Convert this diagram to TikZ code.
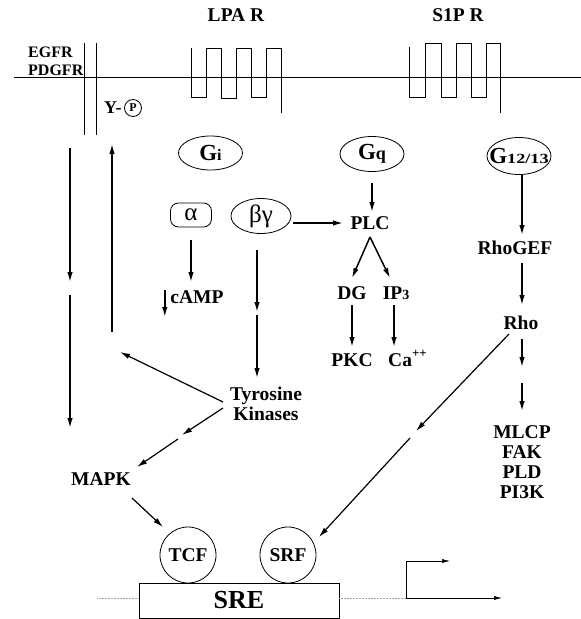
\documentclass[tikz,border=0pt]{standalone}
\usepackage{fontspec}
\setmainfont{Liberation Serif}
\usetikzlibrary{arrows.meta,shapes.geometric,calc}
\begin{document}
\begin{tikzpicture}[x=1pt,y=-1pt,
  lbl/.style={font=\fontsize{19.5}{20}\selectfont\bfseries, inner sep=0pt},
  rlbl/.style={font=\fontsize{16}{17}\selectfont\bfseries, inner sep=0pt},
  gnode/.style={draw, ellipse, line width=0.8pt, inner sep=0pt, font=\fontsize{23}{23}\selectfont\bfseries},
  arr/.style={line width=1.5pt, -{Latex[length=10pt,width=5.5pt]}},
  memline/.style={line width=0.8pt},
  dnaline/.style={line width=0.6pt},
  faint/.style={line width=0.5pt, gray!70, densely dotted},
  fcirc/.style={draw, circle, line width=0.8pt, inner sep=0pt, minimum size=56pt, font=\fontsize{19.5}{20}\selectfont\bfseries},
]
\useasboundingbox (0,0) rectangle (581,619);

% membrane
\draw[memline] (14,77) -- (581,77);
% RTK
\draw[memline] (84.5,43) -- (84.5,135);
\draw[memline] (96.5,43) -- (96.5,135);
% LPA R serpentine
\draw[memline] (191,48) -- (191,97) -- (206,97) -- (206,48) -- (221,48) -- (221,98) -- (236,98) -- (236,48) -- (251,48) -- (251,97) -- (266,97) -- (266,48) -- (281,48) -- (281,113);
% S1P R serpentine
\draw[memline] (409,47) -- (409,97) -- (425.5,97) -- (425.5,43.5) -- (441.5,43.5) -- (441.5,97) -- (456,97) -- (456,43.5) -- (471.5,43.5) -- (471.5,97) -- (486,97) -- (486,43.5) -- (500,43.5) -- (500,113);

% labels
\node[rlbl, anchor=west] (egfr) at (28,52) {EGFR};
\node[rlbl, anchor=west] (pdgfr) at (28,70) {PDGFR};
\node[lbl] (lpa) at (236,15) {LPA R};
\node[lbl] (s1p) at (458,15) {S1P R};
\node[font=\fontsize{18}{18}\selectfont\bfseries, inner sep=0pt, anchor=west] (yp) at (104,108) {Y-};
\node[draw, circle, line width=0.8pt, inner sep=0pt, minimum size=17pt, font=\fontsize{12}{12}\selectfont\bfseries] (pcirc) at (133,108) {P};

% G proteins
\node[gnode, minimum width=64pt, minimum height=34pt] (Gi) at (210.5,153) {\makebox[0pt]{G{\fontsize{16}{16}\selectfont i}}};
\node[gnode, minimum width=64pt, minimum height=35pt] (Gq) at (372,154) {\makebox[0pt]{G{\fontsize{18}{18}\selectfont q}}};
\node[gnode, minimum width=64pt, minimum height=37pt] (G12) at (519,156) {\makebox[0pt]{G{\fontsize{14}{14}\selectfont\scalebox{1.3}[1]{12/13}}}};

\node[draw, rectangle, rounded corners=8pt, line width=0.8pt, minimum width=41pt, minimum height=24pt, inner sep=0pt, font=\fontsize{25}{25}\selectfont] (al) at (191,215) {\makebox[0pt]{α}};
\node[draw, ellipse, line width=0.8pt, minimum width=60pt, minimum height=35pt, inner sep=0pt, font=\fontsize{25}{25}\selectfont] (bg) at (261,216) {\makebox[0pt]{βγ}};

\node[lbl] (PLC) at (370,223) {PLC};
\node[lbl] (camp) at (197,297) {cAMP};
\node[lbl] (DG) at (352,293) {DG};
\node[lbl] (IP3) at (396,293) {IP{\fontsize{14}{14}\selectfont 3}};
\node[lbl] (PKC) at (352,360) {PKC};
\node[lbl, anchor=base west] (Ca) at (388,366.5) {Ca\raisebox{9pt}{\fontsize{13}{13}\selectfont ++}};
\node[lbl] (RhoGEF) at (515,248) {RhoGEF};
\node[lbl] (Rho) at (521,323) {Rho};
\node[lbl, align=center] (mlcp) at (522,462.5) {MLCP\\FAK\\PLD\\PI3K};
\node[lbl, align=center] (tk) at (266,404) {Tyrosine\\Kinases};
\node[lbl] (mapk) at (101,479) {MAPK};
\node[fcirc] (tcf) at (188,555) {TCF};
\node[fcirc] (srf) at (288,555) {SRF};
\node[draw, rectangle, line width=0.8pt, minimum width=200pt, minimum height=35pt, inner sep=0pt, font=\fontsize{26}{26}\selectfont\bfseries] (sre) at (239,600.5) {SRE};

% free-end coordinates
\coordinate (l1a) at (70,148);
\coordinate (l1b) at (70,282);
\coordinate (l2a) at (70,295);
\coordinate (l2b) at (70,428);
\coordinate (upa) at (112,332);
\coordinate (upb) at (112,144);
\coordinate (tkup) at (120,352);
\coordinate (tm1) at (182,435);
\coordinate (tm2) at (178,439);
\coordinate (rs1) at (416,431);
\coordinate (rs2) at (410,438);
\coordinate (rm1) at (522,367);
\coordinate (rm2) at (522,383);
\coordinate (bt1) at (257,312);
\coordinate (bt2) at (257,315);
\coordinate (dnaL) at (97,598);
\coordinate (prom) at (406,598);
\coordinate (promtop) at (406,561);
\coordinate (promend) at (450,561);
\coordinate (dnaR) at (502,598);

% arrows
\draw[arr] (l1a) -- (l1b);
\draw[arr] (l2a) -- (l2b);
\draw[arr] (upa) -- (upb);
\draw[arr] ($(Gq)+(0,29)$) -- ($(PLC)+(2,-11)$);
\draw[arr] ($(G12)+(3,19)$) -- ($(RhoGEF)+(7,-13)$);
\draw[arr] ($(RhoGEF)+(7,15)$) -- ($(Rho)+(1,-18)$);
\draw[arr] ($(Rho)+(1,16)$) -- (rm1);
\draw[arr] (rm2) -- ($(mlcp)+(0,-51.5)$);
\draw[arr] ($(PLC)+(0,14)$) -- ($(DG)+(0,-15)$);
\draw[arr] ($(PLC)+(0,14)$) -- ($(IP3)+(-6,-15)$);
\draw[arr] ($(DG)+(0,12)$) -- ($(PKC)+(0,-13)$);
\draw[arr] ($(IP3)+(-2,12)$) -- ($(Ca.base west)+(6,-19.5)$);
\draw[arr] ($(al)+(0,25)$) -- ($(camp)+(-6,-15)$);
\draw[arr] ($(camp.west)+(-5.5,-7)$) -- ($(camp.west)+(-5.5,20)$);
\draw[arr] ($(bg)+(-4,34)$) -- (bt1);
\draw[arr] (bt2) -- ($(tk)+(-9,-26)$);
\draw[arr] ($(bg)+(32,7)$) -- ($(PLC)+(-27,0)$);
\draw[arr, line width=1.2pt] ($(tk)+(-43,-2)$) -- (tkup);
\draw[arr, line width=1.2pt] ($(tk)+(-43,4)$) -- (tm1);
\draw[arr, line width=1.2pt] (tm2) -- ($(mapk)+(36,-12)$);
\draw[arr, line width=1.2pt] ($(mapk)+(31,19)$) -- ($(tcf)+(-25,-28)$);
\draw[arr, line width=1.2pt] ($(Rho)+(-12,11)$) -- (rs1);
\draw[arr, line width=1.2pt] (rs2) -- ($(srf)+(31,-18)$);

% DNA
\draw[faint] (dnaL) -- (sre.west |- dnaL);
\draw[faint] (sre.east |- prom) -- (prom);
\draw[dnaline, -{Latex[length=8pt,width=4pt]}] (prom) -- (dnaR);
\draw[dnaline, -{Latex[length=8pt,width=4pt]}] (prom) -- (promtop) -- (promend);
\end{tikzpicture}
\end{document}
